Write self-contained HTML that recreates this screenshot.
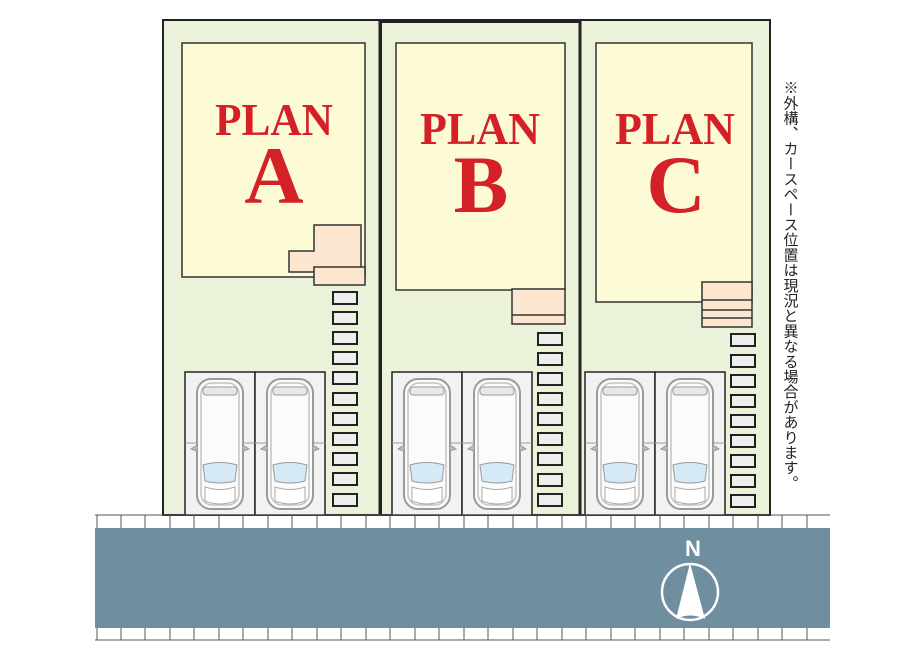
<!DOCTYPE html>
<html><head><meta charset="utf-8"><style>
html,body{margin:0;padding:0;background:#fff;width:900px;height:650px;overflow:hidden}
svg{display:block}
</style></head><body>
<svg width="900" height="650" viewBox="0 0 900 650" xmlns="http://www.w3.org/2000/svg">
<defs>
<g id="car">
<rect x="2" y="4" width="46" height="130" rx="14" fill="#fbfbfb" stroke="#9a9a9a" stroke-width="2"/>
<rect x="6" y="8" width="38" height="122" rx="11" fill="none" stroke="#c4c4c4" stroke-width="1.5"/>
<rect x="8" y="12" width="34" height="8" rx="3" fill="#e8e8e8" stroke="#9a9a9a"/>
<path d="M8 90 Q25 85 42 90 L40 106 Q25 110 10 106 Z" fill="#d5e9f7" stroke="#9a9a9a"/>
<path d="M10 112 Q25 117 40 112 L40 126 Q25 132 10 126 Z" fill="#fff" stroke="#aaa"/>
<path d="M2 70 L-4 74 L2 76 M48 70 L54 74 L48 76" fill="#bbb" stroke="#999"/>
</g>
<g id="stone"><rect width="24" height="12" fill="#eeeeee" stroke="#222" stroke-width="2"/></g>
</defs>
<!-- lots -->
<rect x="163" y="20" width="607" height="495" fill="#eaf3d9" stroke="#222" stroke-width="2"/>
<line x1="380" y1="20" x2="380" y2="515" stroke="#222" stroke-width="3"/>
<line x1="580" y1="20" x2="580" y2="515" stroke="#222" stroke-width="3"/>
<rect x="381" y="22" width="199" height="493" fill="none" stroke="#222" stroke-width="2"/>
<!-- houses -->
<rect x="182" y="43" width="183" height="234" fill="#fdfbd6" stroke="#333" stroke-width="1.5"/>
<rect x="396" y="43" width="169" height="247" fill="#fdfbd6" stroke="#333" stroke-width="1.5"/>
<rect x="596" y="43" width="156" height="259" fill="#fdfbd6" stroke="#333" stroke-width="1.5"/>
<!-- porches -->
<path d="M314 225 H361 V272 H289 V251 H314 Z" fill="#fde6cf" stroke="#333" stroke-width="1.5"/>
<rect x="314" y="267" width="51" height="18" fill="#fde6cf" stroke="#333" stroke-width="1.5"/>
<rect x="512" y="289" width="53" height="35" fill="#fde6cf" stroke="#333" stroke-width="1.5"/>
<line x1="512" y1="315" x2="565" y2="315" stroke="#333" stroke-width="1.5"/>
<rect x="702" y="282" width="50" height="45" fill="#fde6cf" stroke="#333" stroke-width="1.5"/>
<line x1="702" y1="300" x2="752" y2="300" stroke="#333" stroke-width="1.5"/>
<line x1="702" y1="310" x2="752" y2="310" stroke="#333" stroke-width="1.5"/>
<line x1="702" y1="318" x2="752" y2="318" stroke="#333" stroke-width="1.5"/>
<!-- labels -->
<g font-family="Liberation Serif, serif" font-weight="bold" fill="#d42027" text-anchor="middle">
<text x="274" y="135" font-size="46" textLength="118" lengthAdjust="spacingAndGlyphs">PLAN</text>
<text x="274" y="203" font-size="82">A</text>
<text x="480" y="144" font-size="46" textLength="120" lengthAdjust="spacingAndGlyphs">PLAN</text>
<text x="481" y="212" font-size="82">B</text>
<text x="675" y="144" font-size="46" textLength="120" lengthAdjust="spacingAndGlyphs">PLAN</text>
<text x="676" y="212" font-size="82">C</text>
</g>
<!-- stones -->
<g>
<use href="#stone" x="333" y="292"/><use href="#stone" x="333" y="312"/><use href="#stone" x="333" y="332"/><use href="#stone" x="333" y="352"/><use href="#stone" x="333" y="372"/><use href="#stone" x="333" y="393"/><use href="#stone" x="333" y="413"/><use href="#stone" x="333" y="433"/><use href="#stone" x="333" y="453"/><use href="#stone" x="333" y="473"/><use href="#stone" x="333" y="494"/>
<use href="#stone" x="538" y="333"/><use href="#stone" x="538" y="353"/><use href="#stone" x="538" y="373"/><use href="#stone" x="538" y="393"/><use href="#stone" x="538" y="413"/><use href="#stone" x="538" y="433"/><use href="#stone" x="538" y="453"/><use href="#stone" x="538" y="474"/><use href="#stone" x="538" y="494"/>
<use href="#stone" x="731" y="334"/><use href="#stone" x="731" y="355"/><use href="#stone" x="731" y="375"/><use href="#stone" x="731" y="395"/><use href="#stone" x="731" y="415"/><use href="#stone" x="731" y="435"/><use href="#stone" x="731" y="455"/><use href="#stone" x="731" y="475"/><use href="#stone" x="731" y="495"/>
</g>
<!-- parking -->
<g fill="#f2f2f2" stroke="#222" stroke-width="1.5">
<rect x="185" y="372" width="70" height="143"/><rect x="255" y="372" width="70" height="143"/>
<rect x="392" y="372" width="70" height="143"/><rect x="462" y="372" width="70" height="143"/>
<rect x="585" y="372" width="70" height="143"/><rect x="655" y="372" width="70" height="143"/>
</g>
<g stroke="#999" stroke-width="1">
<line x1="185" y1="443" x2="325" y2="443"/><line x1="392" y1="443" x2="532" y2="443"/><line x1="585" y1="443" x2="725" y2="443"/>
</g>
<use href="#car" x="195" y="375"/><use href="#car" x="265" y="375"/>
<use href="#car" x="402" y="375"/><use href="#car" x="472" y="375"/>
<use href="#car" x="595" y="375"/><use href="#car" x="665" y="375"/>
<!-- road -->
<rect x="95" y="528" width="735" height="100" fill="#6f8fa0"/>
<line x1="95" y1="515" x2="830" y2="515" stroke="#555" stroke-width="1"/>
<line x1="95" y1="640" x2="830" y2="640" stroke="#555" stroke-width="1"/>
<g stroke="#555" stroke-width="1">
<path d="M97 515V528M121 515V528M145 515V528M170 515V528M194 515V528M219 515V528M243 515V528M268 515V528M292 515V528M317 515V528M341 515V528M366 515V528M390 515V528M415 515V528M439 515V528M464 515V528M488 515V528M513 515V528M537 515V528M562 515V528M586 515V528M611 515V528M635 515V528M660 515V528M684 515V528M709 515V528M733 515V528M758 515V528M782 515V528M807 515V528"/>
<path d="M97 628V640M121 628V640M145 628V640M170 628V640M194 628V640M219 628V640M243 628V640M268 628V640M292 628V640M317 628V640M341 628V640M366 628V640M390 628V640M415 628V640M439 628V640M464 628V640M488 628V640M513 628V640M537 628V640M562 628V640M586 628V640M611 628V640M635 628V640M660 628V640M684 628V640M709 628V640M733 628V640M758 628V640M782 628V640M807 628V640"/>
</g>
<!-- north -->
<text x="693" y="556" font-family="Liberation Sans, sans-serif" font-weight="bold" font-size="22" fill="#fff" text-anchor="middle">N</text>
<circle cx="690" cy="592" r="28" fill="none" stroke="#fff" stroke-width="2.5"/>
<path d="M690 563 L705 619 Q690 612 676 619 Z" fill="#fff"/>
<!-- note -->
<text x="790" y="80" font-family="Liberation Sans, 'Noto Sans CJK JP', sans-serif" font-size="15" fill="#222" style="writing-mode:vertical-rl" letter-spacing="0.2">※外構、カースペース位置は現況と異なる場合があります。</text>
</svg>
</body></html>
